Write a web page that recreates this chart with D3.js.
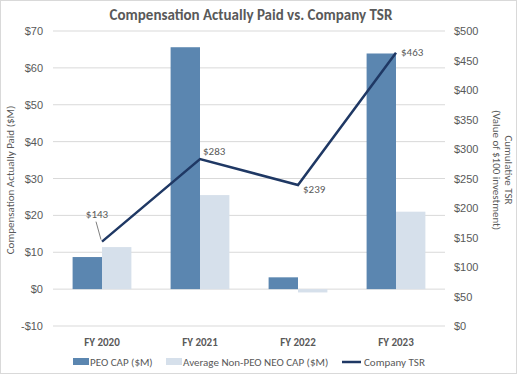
<!DOCTYPE html>
<html>
<head>
<meta charset="utf-8">
<script src="https://cdn.jsdelivr.net/npm/d3@7"></script>
<style>
  body { margin: 0; background: #fff; }
  svg { font-family: Carlito, Lato, "Open Sans", sans-serif; }
</style>
</head>
<body>
<svg id="chart" width="518" height="375"></svg>
<script>
const categories = ["FY 2020", "FY 2021", "FY 2022", "FY 2023"];
const peoCap = [8.7, 65.6, 3.2, 63.9];
const neoCap = [11.4, 25.5, -0.9, 21.0];
const tsr = [143, 283, 239, 463];
const leftTicks = [-10, 0, 10, 20, 30, 40, 50, 60, 70];
const rightTicks = [0, 50, 100, 150, 200, 250, 300, 350, 400, 450, 500];

const svg = d3.select("#chart");
const textColor = "#595959";
const margin = { top: 31, left: 53, right: 73, bottom: 49 };
const width = 518 - margin.left - margin.right;
const height = 375 - margin.top - margin.bottom;

// outer border
svg.append("rect")
    .attr("x", 0.5).attr("y", 0.5)
    .attr("width", 516).attr("height", 373)
    .attr("fill", "#fff")
    .attr("stroke", "#d9d9d9");

const g = svg.append("g").attr("transform", `translate(${margin.left},${margin.top})`);

const x0 = d3.scaleBand().domain(categories).range([0, width]).paddingInner(0).paddingOuter(0);
const x1 = d3.scaleBand().domain(["peo", "neo"]).range([x0.bandwidth() * 0.2, x0.bandwidth() * 0.8]);
const yL = d3.scaleLinear().domain([-10, 70]).range([height, 0]);
const yR = d3.scaleLinear().domain([0, 500]).range([height, 0]);

// gridlines
g.append("g")
    .selectAll("line")
    .data(leftTicks)
    .enter().append("line")
    .attr("x1", 0).attr("x2", width)
    .attr("y1", d => yL(d)).attr("y2", d => yL(d))
    .attr("stroke", "#d9d9d9").attr("stroke-width", 1);

// left axis
const leftAxis = g.append("g")
    .call(d3.axisLeft(yL).tickValues(leftTicks).tickSize(0).tickPadding(10)
        .tickFormat(d => (d < 0 ? "-$" + Math.abs(d) : "$" + d)));
leftAxis.select(".domain").remove();
leftAxis.selectAll("text").attr("fill", textColor).style("font-size", "11px");

// right axis
const rightAxis = g.append("g")
    .attr("transform", `translate(${width},0)`)
    .call(d3.axisRight(yR).tickValues(rightTicks).tickSize(0).tickPadding(9)
        .tickFormat(d => "$" + d));
rightAxis.select(".domain").remove();
rightAxis.selectAll("text").attr("fill", textColor).style("font-size", "11px");

// bars
const groups = g.selectAll(".cat")
    .data(categories)
    .enter().append("g")
    .attr("transform", d => `translate(${x0(d)},0)`);

groups.append("rect")
    .attr("x", x1("peo"))
    .attr("width", x1.bandwidth())
    .attr("y", (d, i) => yL(Math.max(0, peoCap[i])))
    .attr("height", (d, i) => Math.abs(yL(peoCap[i]) - yL(0)))
    .attr("fill", "#5b86b0");

groups.append("rect")
    .attr("x", x1("neo"))
    .attr("width", x1.bandwidth())
    .attr("y", (d, i) => yL(Math.max(0, neoCap[i])))
    .attr("height", (d, i) => Math.abs(yL(neoCap[i]) - yL(0)))
    .attr("fill", "#d6e0eb");

// TSR line
const cx = d => x0(d) + x0.bandwidth() / 2;
const line = d3.line()
    .x((d, i) => cx(categories[i]))
    .y(d => yR(d));

g.append("path")
    .datum(tsr)
    .attr("d", line)
    .attr("fill", "none")
    .attr("stroke", "#1f3864")
    .attr("stroke-width", 2.5);

// data labels
const labelOffsets = [
    { dx: -5, dy: -24, anchor: "middle" },
    { dx: 3, dy: -4, anchor: "start" },
    { dx: 5, dy: 8, anchor: "start" },
    { dx: 5, dy: 3, anchor: "start" }
];
tsr.forEach((v, i) => {
    const px = cx(categories[i]);
    const py = yR(v);
    const o = labelOffsets[i];
    g.append("text")
        .attr("x", px + o.dx)
        .attr("y", py + o.dy)
        .attr("text-anchor", o.anchor)
        .attr("fill", textColor)
        .style("font-size", "11px")
        .text("$" + v);
});
// leader line for the first label
g.append("line")
    .attr("x1", cx(categories[0]) - 6).attr("y1", yR(tsr[0]) - 20)
    .attr("x2", cx(categories[0]) - 1).attr("y2", yR(tsr[0]) - 2)
    .attr("stroke", "#7f7f7f").attr("stroke-width", 1);

// category labels
g.selectAll(".xlab")
    .data(categories)
    .enter().append("text")
    .attr("x", d => cx(d))
    .attr("y", height + 20)
    .attr("text-anchor", "middle")
    .attr("fill", textColor)
    .style("font-size", "11px")
    .style("font-weight", "bold")
    .text(d => d);

// title
svg.append("text")
    .attr("x", 251)
    .attr("y", 20)
    .attr("text-anchor", "middle")
    .attr("fill", textColor)
    .style("font-size", "15px")
    .style("font-weight", "bold")
    .text("Compensation Actually Paid vs. Company TSR");

// axis titles
svg.append("text")
    .attr("transform", "translate(14,180) rotate(-90)")
    .attr("text-anchor", "middle")
    .attr("fill", textColor)
    .style("font-size", "11px")
    .text("Compensation Actually Paid ($M)");

const rt = svg.append("text")
    .attr("transform", "translate(505,170) rotate(90)")
    .attr("text-anchor", "middle")
    .attr("fill", textColor)
    .style("font-size", "11px");
rt.append("tspan").attr("x", 0).attr("y", 0).text("Cumulative TSR");
rt.append("tspan").attr("x", 0).attr("y", 12).text("(Value of $100 investment)");

// legend
const legend = svg.append("g").attr("transform", "translate(0,362)");
const legendItems = [
    { x: 73, type: "rect", color: "#5b86b0", label: "PEO CAP ($M)" },
    { x: 166, type: "rect", color: "#d6e0eb", label: "Average Non-PEO NEO CAP ($M)" },
    { x: 342, type: "line", color: "#1f3864", label: "Company TSR" }
];
legendItems.forEach(it => {
    if (it.type === "rect") {
        legend.append("rect")
            .attr("x", it.x).attr("y", -4)
            .attr("width", 16).attr("height", 7)
            .attr("fill", it.color);
    } else {
        legend.append("line")
            .attr("x1", it.x).attr("x2", it.x + 19)
            .attr("y1", 0).attr("y2", 0)
            .attr("stroke", it.color).attr("stroke-width", 2.5);
    }
    legend.append("text")
        .attr("x", it.x + (it.type === "rect" ? 17 : 22))
        .attr("y", 4)
        .attr("fill", textColor)
        .style("font-size", "11px")
        .text(it.label);
});
</script>
</body>
</html>
